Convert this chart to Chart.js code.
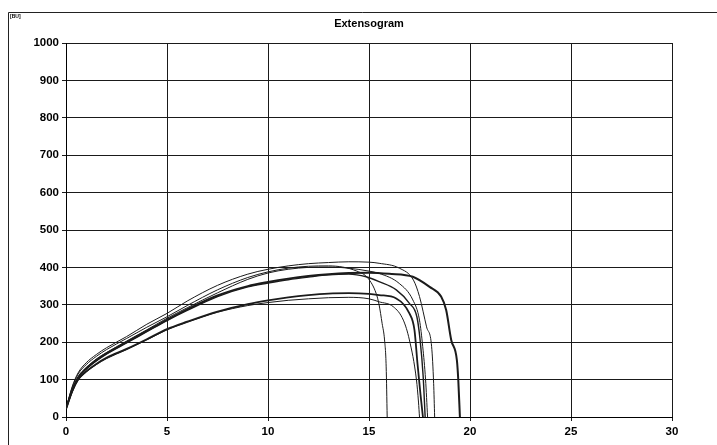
<!DOCTYPE html>
<html>
<head>
<meta charset="utf-8">
<script src="https://cdn.jsdelivr.net/npm/chart.js@4"></script>
<style>
  html, body { margin: 0; padding: 0; background: #fff; }
  #wrap { width: 717px; height: 445px; position: relative; }
</style>
</head>
<body>
<div id="wrap"><canvas id="extChart" width="717" height="445"></canvas></div>
<script>
// extensogram curves, time (x) vs resistance in BU (y)
const curve1X = [0, 0.3, 0.6, 1, 1.5, 2, 3, 4, 5, 6, 7.5, 9, 10, 11, 12, 13, 14, 15, 15.5, 16.5, 17.2, 17.5, 17.85, 18.1, 18.2, 18.25];
const curve1Y = [22, 80, 118, 145, 167, 185, 215, 248, 277, 310, 352, 382, 395, 404, 410, 413, 415, 414, 411, 398, 366, 322, 241, 188, 90, 0];

const curve2X = [0, 0.3, 0.6, 1, 1.5, 2, 3, 4, 5, 6, 7.5, 9, 10, 11, 12, 13, 14.4, 14.95, 15.35, 15.5, 15.65, 15.77, 15.85, 15.9];
const curve2Y = [22, 78, 115, 140, 162, 180, 210, 240, 268, 298, 340, 373, 388, 398, 403, 404, 390, 371, 331, 300, 250, 206, 134, 0];

const curve3X = [0, 0.3, 0.6, 1, 1.5, 2, 3, 4, 5, 6, 7.5, 9, 10, 11, 12, 13, 14, 15, 15.5, 16.5, 17.17, 17.5, 17.66, 17.8, 17.9];
const curve3Y = [22, 72, 108, 132, 155, 172, 203, 233, 264, 292, 332, 368, 385, 395, 400, 401, 398, 390, 384, 357, 313, 259, 188, 100, 0];

const curve4X = [0, 0.3, 0.6, 1, 1.5, 2, 3, 4, 5, 6, 7.5, 9, 10, 11, 12, 13, 14, 15, 16, 17.17, 18, 18.57, 18.82, 19.07, 19.35, 19.42, 19.5];
const curve4Y = [22, 70, 105, 130, 152, 170, 200, 230, 260, 288, 325, 350, 361, 370, 377, 382, 385, 386, 383, 375, 348, 322, 286, 206, 152, 99, 0];

const curve5X = [0, 0.3, 0.6, 1, 1.5, 2, 3, 4, 5, 6, 7.5, 9, 10, 11, 12, 13, 14, 14.86, 15.5, 16.35, 17, 17.37, 17.53, 17.68, 17.78];
const curve5Y = [22, 70, 104, 128, 150, 168, 198, 228, 258, 285, 322, 348, 358, 367, 374, 380, 382, 375, 362, 340, 304, 268, 206, 110, 0];

const curve6X = [0, 0.3, 0.6, 1, 1.5, 2, 3, 4, 5, 6, 7.5, 9, 10, 11, 12, 13, 14, 15, 15.5, 16.35, 17, 17.25, 17.4, 17.55, 17.67];
const curve6Y = [22, 68, 100, 122, 142, 158, 182, 208, 235, 255, 282, 302, 312, 320, 326, 330, 331, 329, 326, 317, 277, 233, 143, 60, 0];

const curve7X = [0, 0.3, 0.6, 1, 1.5, 2, 3, 4, 5, 6, 7.5, 9, 10, 11, 12, 13, 14, 15, 15.5, 16.2, 16.7, 17, 17.35, 17.45, 17.5];
const curve7Y = [22, 66, 98, 120, 140, 156, 180, 206, 233, 253, 280, 298, 306, 312, 316, 319, 320, 316, 308, 295, 259, 206, 99, 40, 0];

const xTicks = [0, 5, 10, 15, 20, 25, 30];
const yTicks = [0, 100, 200, 300, 400, 500, 600, 700, 800, 900, 1000];

function pts(xs, ys) {
    return xs.map((x, i) => ({ x: x, y: ys[i] }));
}

function curve(xs, ys, width) {
    return {
        data: pts(xs, ys),
        borderColor: '#1b1b1b',
        borderWidth: width,
        pointRadius: 0,
        cubicInterpolationMode: 'monotone',
        fill: false
    };
}

// outer frame lines, unit tag and title (centred over the plot area)
const frame = {
    id: 'frame',
    beforeDraw(chart) {
        const c = chart.ctx;
        const area = chart.chartArea;
        c.save();
        c.strokeStyle = '#222';
        c.lineWidth = 1;
        c.beginPath();
        c.moveTo(8.5, 445);
        c.lineTo(8.5, 12.5);
        c.lineTo(717, 12.5);
        c.stroke();
        c.fillStyle = '#000';
        c.font = 'bold 5px Arial';
        c.textBaseline = 'top';
        c.fillText('[BU]', 10, 14);
        c.font = 'bold 11px Arial';
        c.textAlign = 'center';
        c.textBaseline = 'middle';
        c.fillText('Extensogram', (area.left + area.right) / 2, 24);
        c.restore();
    }
};

const ctx = document.getElementById('extChart').getContext('2d');
var myChart = new Chart(ctx, {
    type: 'line',
    data: {
        datasets: [
            curve(curve1X, curve1Y, 1),
            curve(curve2X, curve2Y, 1),
            curve(curve3X, curve3Y, 1),
            curve(curve4X, curve4Y, 2),
            curve(curve5X, curve5Y, 1.4),
            curve(curve6X, curve6Y, 1.8),
            curve(curve7X, curve7Y, 1)
        ]
    },
    options: {
        responsive: false,
        animation: false,
        layout: { padding: { left: 8, right: 45, top: 43, bottom: 0 } },
        plugins: {
            legend: { display: false },
            tooltip: { enabled: false },
            title: { display: false }
        },
        scales: {
            x: {
                type: 'linear',
                min: 0,
                max: 30,
                afterBuildTicks: (s) => { s.ticks = xTicks.map(v => ({ value: v })); },
                afterFit: (s) => { s.height = 28; },
                grid: { color: '#1a1a1a', lineWidth: 1, tickLength: 4 },
                border: { color: '#000', width: 1 },
                ticks: {
                    color: '#000',
                    padding: 4,
                    maxRotation: 0,
                    callback: (v) => String(v),
                    font: { family: 'Arial', size: 11.5, weight: 'bold' }
                }
            },
            y: {
                min: 0,
                max: 1000,
                afterBuildTicks: (s) => { s.ticks = yTicks.map(v => ({ value: v })); },
                afterFit: (s) => { s.width = 58; },
                grid: { color: '#1a1a1a', lineWidth: 1, tickLength: 4 },
                border: { color: '#000', width: 1 },
                ticks: {
                    color: '#000',
                    padding: 3,
                    callback: (v) => String(v),
                    font: { family: 'Arial', size: 11.5, weight: 'bold' }
                }
            }
        }
    },
    plugins: [frame]
});
</script>
</body>
</html>
